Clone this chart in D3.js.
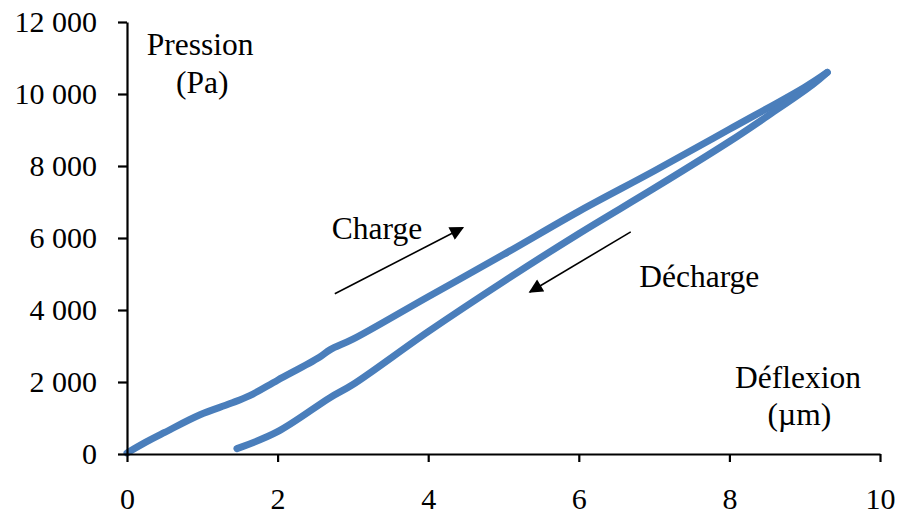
<!DOCTYPE html>
<html><head><meta charset="utf-8">
<script src="https://cdn.jsdelivr.net/npm/d3@7"></script>
<style>body{margin:0;background:#fff}svg{display:block}</style>
</head><body><svg id="c" width="897" height="515"></svg>
<script>
// ---- data ----
const xTicks = [0, 2, 4, 6, 8, 10];
const yTicks = [0, 2000, 4000, 6000, 8000, 10000, 12000];
// Charge (loading) band centreline
const chargeX = [0, 0.25, 0.5, 0.97, 1.37, 1.63, 2, 2.55, 2.7, 3, 4, 5, 6, 7, 8, 9, 9.3];
const chargeY = [30, 330, 600, 1090, 1400, 1620, 2050, 2680, 2900, 3190, 4370, 5540, 6740, 7860, 9020, 10190, 10600];
// Décharge (unloading) band centreline
const dechargeX = [9.3, 9.1, 8.5, 8, 7, 6, 5, 4, 3, 2.7, 2, 1.46];
const dechargeY = [10600, 10250, 9380, 8680, 7380, 6120, 4790, 3400, 1930, 1570, 620, 150];
// annotations (data units)
const labels = [
  {text: "Pression", x: 0.97, y: 11090},
  {text: "(Pa)", x: 1.0, y: 10035},
  {text: "Déflexion", x: 8.91, y: 1835},
  {text: "(µm)", x: 8.93, y: 805},
  {text: "Charge", x: 3.32, y: 5980},
  {text: "Décharge", x: 7.6, y: 4640}
];
const arrows = [
  {x1: 2.76, y1: 4450, x2: 4.46, y2: 6285},
  {x1: 6.69, y1: 6170, x2: 5.35, y2: 4500}
];

// ---- layout ----
const W = 897, H = 515;
const m = {left: 127, right: 17, top: 22, bottom: 61};
const svg = d3.select("#c");
svg.append("rect").attr("width", W).attr("height", H).attr("fill", "#fff");

const x = d3.scaleLinear().domain([0, 10]).range([m.left, W - m.right]);
const y = d3.scaleLinear().domain([0, 12000]).range([H - m.bottom, m.top]);

const font = "'Liberation Serif','Times New Roman',serif";
const loc = d3.formatLocale({decimal: ",", thousands: " ", grouping: [3], currency: ["", ""]});
const fmt = loc.format(",d");

const blue = "#4a7ebb";

// bands
const line = d3.line().x(d => x(d[0])).y(d => y(d[1])).curve(d3.curveCatmullRom);
[[chargeX, chargeY], [dechargeX, dechargeY]].forEach(([xs, ys]) => {
  svg.append("path")
    .datum(xs.map((v, i) => [v, ys[i]]))
    .attr("d", line).attr("fill", "none").attr("stroke", blue)
    .attr("stroke-width", 7).attr("stroke-linecap", "round").attr("stroke-linejoin", "round");
});

// axes
const gx = svg.append("g").attr("transform", `translate(0,${y(0)})`)
  .call(d3.axisBottom(x).tickValues(xTicks).tickSize(8).tickSizeOuter(0).tickPadding(26).tickFormat(d3.format("d")));
const gy = svg.append("g").attr("transform", `translate(${x(0)},0)`)
  .call(d3.axisLeft(y).tickValues(yTicks).tickSize(9).tickSizeOuter(0).tickPadding(21).tickFormat(fmt));
[gx, gy].forEach(g => {
  g.select(".domain").attr("stroke", "#000").attr("stroke-width", 2.2);
  g.selectAll(".tick line").attr("stroke", "#000").attr("stroke-width", 2.2);
  g.selectAll(".tick text").attr("fill", "#000").style("font-family", font).style("font-size", "30px");
});

// arrows
const defs = svg.append("defs");
defs.append("marker").attr("id", "ah").attr("viewBox", "0 0 10 10")
  .attr("refX", 9).attr("refY", 5)
  .attr("markerUnits", "userSpaceOnUse").attr("orient", "auto")
  .attr("markerWidth", 15).attr("markerHeight", 14)
  .append("path").attr("d", "M0,0 L10,5 L0,10 Z").attr("fill", "#000");
svg.selectAll("line.arr").data(arrows).join("line").attr("class", "arr")
  .attr("x1", d => x(d.x1)).attr("y1", d => y(d.y1))
  .attr("x2", d => x(d.x2)).attr("y2", d => y(d.y2))
  .attr("stroke", "#000").attr("stroke-width", 1.6).attr("marker-end", "url(#ah)");

// labels
svg.selectAll("text.lab").data(labels).join("text").attr("class", "lab")
  .attr("x", d => x(d.x)).attr("y", d => y(d.y))
  .attr("text-anchor", "middle").style("font-family", font).style("font-size", "31.5px")
  .attr("fill", "#000").text(d => d.text);
</script></body></html>
